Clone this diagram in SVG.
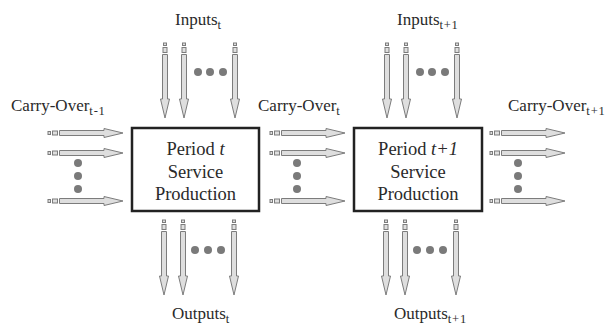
<svg xmlns="http://www.w3.org/2000/svg" xmlns:xlink="http://www.w3.org/1999/xlink" width="614" height="326" viewBox="0 0 614 326">
<style>
.lbl{font-family:"Liberation Serif","Times New Roman",serif;font-size:17px;fill:#2a2a2a}
.sub{font-size:12.5px;letter-spacing:0.8px}
.btxt{font-family:"Liberation Serif","Times New Roman",serif;font-size:18.5px;fill:#2a2a2a;text-anchor:middle}
.box{fill:#fff;stroke:#222;stroke-width:2.5}
.arr{fill:#dedede;stroke:#7c7c7c;stroke-width:1}
.dot{fill:#7a7a7a}
</style>
<defs>
<g id="arrow">
<rect class="arr" x="0" y="-1.5" width="2.5" height="3"/>
<rect class="arr" x="4.5" y="-2" width="5" height="4"/>
<path class="arr" d="M11.5,-2.5 H56 V-4.5 L75,0 L56,4.5 V2.5 H11.5 Z"/>
</g>
</defs>
<g id="connectors">
<use xlink:href="#arrow" transform="translate(48,133)"/>
<use xlink:href="#arrow" transform="translate(48,153)"/>
<use xlink:href="#arrow" transform="translate(48,201)"/>
<use xlink:href="#arrow" transform="translate(270,133)"/>
<use xlink:href="#arrow" transform="translate(270,153)"/>
<use xlink:href="#arrow" transform="translate(270,201)"/>
<use xlink:href="#arrow" transform="translate(490,133)"/>
<use xlink:href="#arrow" transform="translate(490,153)"/>
<use xlink:href="#arrow" transform="translate(490,201)"/>
<use xlink:href="#arrow" transform="translate(165,43) rotate(90)"/>
<use xlink:href="#arrow" transform="translate(184,43) rotate(90)"/>
<use xlink:href="#arrow" transform="translate(235,43) rotate(90)"/>
<use xlink:href="#arrow" transform="translate(387,43) rotate(90)"/>
<use xlink:href="#arrow" transform="translate(406,43) rotate(90)"/>
<use xlink:href="#arrow" transform="translate(457,43) rotate(90)"/>
<use xlink:href="#arrow" transform="translate(164,220) rotate(90)"/>
<use xlink:href="#arrow" transform="translate(183,220) rotate(90)"/>
<use xlink:href="#arrow" transform="translate(234,220) rotate(90)"/>
<use xlink:href="#arrow" transform="translate(386,220) rotate(90)"/>
<use xlink:href="#arrow" transform="translate(405,220) rotate(90)"/>
<use xlink:href="#arrow" transform="translate(456,220) rotate(90)"/>
<g id="dots">
<circle class="dot" cx="78" cy="163" r="4"/><circle class="dot" cx="78" cy="176" r="4"/><circle class="dot" cx="78" cy="189" r="4"/>
<circle class="dot" cx="297" cy="163" r="4"/><circle class="dot" cx="297" cy="176" r="4"/><circle class="dot" cx="297" cy="189" r="4"/>
<circle class="dot" cx="518" cy="163" r="4"/><circle class="dot" cx="518" cy="176" r="4"/><circle class="dot" cx="518" cy="189" r="4"/>
<circle class="dot" cx="198" cy="72" r="4"/><circle class="dot" cx="210" cy="72" r="4"/><circle class="dot" cx="223" cy="72" r="4"/>
<circle class="dot" cx="420" cy="72" r="4"/><circle class="dot" cx="432" cy="72" r="4"/><circle class="dot" cx="445" cy="72" r="4"/>
<circle class="dot" cx="195" cy="250" r="4"/><circle class="dot" cx="208" cy="250" r="4"/><circle class="dot" cx="221" cy="250" r="4"/>
<circle class="dot" cx="417" cy="250" r="4"/><circle class="dot" cx="430" cy="250" r="4"/><circle class="dot" cx="443" cy="250" r="4"/>
</g>
</g>
<g id="period-t">
<rect class="box" x="132" y="128" width="127" height="83"/>
<text class="btxt" x="195.5" y="155">Period <tspan font-style="italic">t</tspan></text>
<text class="btxt" x="195.5" y="178">Service</text>
<text class="btxt" x="195.5" y="200">Production</text>
</g>
<g id="period-t1">
<rect class="box" x="354" y="128" width="128" height="83"/>
<text class="btxt" x="418" y="155">Period <tspan font-style="italic">t+1</tspan></text>
<text class="btxt" x="418" y="178">Service</text>
<text class="btxt" x="418" y="200">Production</text>
</g>
<g id="labels">
<text class="lbl" x="175" y="25">Inputs<tspan class="sub" dy="4">t</tspan></text>
<text class="lbl" x="397" y="25">Inputs<tspan class="sub" dy="4">t+1</tspan></text>
<text class="lbl" x="11" y="111">Carry-Over<tspan class="sub" dy="4">t-1</tspan></text>
<text class="lbl" x="258" y="111">Carry-Over<tspan class="sub" dy="4">t</tspan></text>
<text class="lbl" x="508" y="111">Carry-Over<tspan class="sub" dy="4">t+1</tspan></text>
<text class="lbl" x="172" y="319">Outputs<tspan class="sub" dy="4">t</tspan></text>
<text class="lbl" x="394" y="319">Outputs<tspan class="sub" dy="4">t+1</tspan></text>
</g>
</svg>
